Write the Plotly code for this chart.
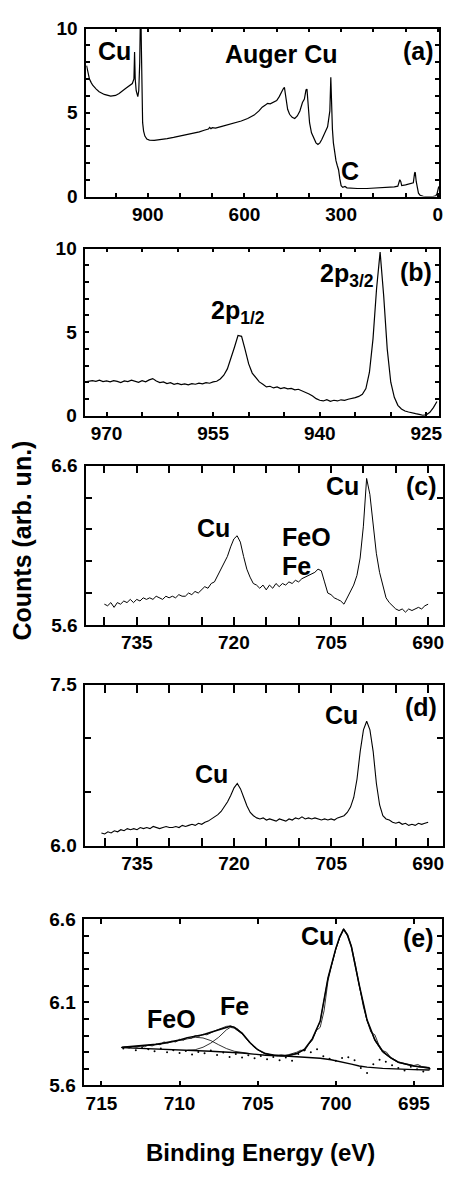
import plotly.graph_objects as go

# ---------------- data ----------------
# (a) survey spectrum
a_energy = [1090,1085,1081,1076,1071,1060,1051,1035,1015,1000,989,969,955,948,943,941,939,936,931,928,
            925,922,920,918,916,913,909,903,895,880,860,840,820,800,780,760,740,725,712,708,
            704,700,690,670,650,630,610,590,570,555,545,535,528,520,512,500,492,486,480,476,
            471,466,460,452,444,436,428,420,414,409,406,402,398,392,385,378,372,366,360,354,
            348,342,338,335,332,330,327,324,320,316,312,308,304,300,295,288,282,270,250,220,
            190,160,135,124,118,115,112,100,85,76,72,70,67,64,60,55,45,30,15,6,2,-3]
a_counts = [7.8,7.3,7.0,6.8,6.63,6.4,6.24,6.08,5.98,6.02,6.14,6.43,6.6,6.73,7.0,8.6,7.0,6.3,5.95,6.3,
            8.0,12.0,9.0,5.2,4.4,3.9,3.6,3.42,3.36,3.35,3.38,3.45,3.52,3.6,3.67,3.75,3.85,3.95,4.02,4.12,
            4.04,4.1,4.08,4.18,4.28,4.38,4.5,4.65,4.85,5.1,5.32,5.45,5.55,5.52,5.62,5.72,5.95,6.2,6.4,6.5,
            5.8,5.2,4.9,4.72,4.65,4.8,5.1,5.6,5.8,6.35,6.4,5.1,4.4,3.8,3.45,3.2,3.1,3.2,3.4,3.7,
            3.9,4.15,4.6,5.1,7.1,5.4,4.0,3.2,2.5,2.14,1.85,1.6,1.05,0.65,0.55,0.6,0.52,0.5,0.48,0.48,
            0.5,0.53,0.58,0.62,1.0,0.9,0.65,0.7,0.78,0.82,1.4,1.45,0.9,0.5,0.2,0.08,0.02,0.0,0.0,0.05,0.2,0.6]

# (b) Cu 2p region
b_energy = [973.0,972.5,972.0,971.5,971.0,970.5,970.0,969.5,969.0,968.5,968.0,967.5,967.0,966.5,966.0,
            965.5,965.0,964.5,964.0,963.5,963.0,962.5,962.0,961.5,961.0,960.5,960.0,959.5,959.0,958.5,
            958.0,957.5,957.0,956.5,956.0,955.5,955.0,954.5,954.0,953.5,953.0,952.5,952.0,951.5,951.0,
            950.5,950.0,949.5,949.0,948.5,948.0,947.5,947.0,946.5,946.0,945.5,945.0,944.5,944.0,943.5,
            943.0,942.5,942.0,941.5,941.0,940.5,940.0,939.5,939.0,938.5,938.0,937.5,937.0,936.5,936.0,
            935.5,935.0,934.5,934.0,933.5,933.0,932.5,932.0,931.5,931.0,930.5,930.0,929.5,929.0,928.5,
            928.0,927.5,927.0,926.5,926.0,925.5,925.0,924.5,924.0,923.5]
b_counts = [2.02,2.06,2.10,2.05,2.12,2.04,2.08,2.02,2.10,2.05,1.98,2.08,2.04,2.12,2.06,
            2.00,2.09,2.03,2.14,2.22,2.08,1.98,2.02,1.92,1.97,1.88,1.93,1.86,1.90,1.84,
            1.92,1.88,1.95,1.90,1.98,1.94,2.02,2.06,2.20,2.42,2.80,3.40,4.10,4.80,4.75,
            3.95,3.10,2.55,2.25,2.02,1.88,1.72,1.76,1.66,1.72,1.62,1.68,1.60,1.63,1.55,
            1.58,1.50,1.42,1.30,1.18,1.02,0.92,0.88,0.96,0.86,0.92,0.88,0.95,0.92,0.98,
            1.02,1.08,1.15,1.28,1.62,2.60,4.60,7.60,9.80,7.20,4.00,2.00,1.10,0.62,0.40,
            0.28,0.22,0.15,0.12,0.08,0.02,0.05,0.20,0.48,0.85]

# (c) and (d) 700 eV region, two samples
cd_energy = [740.0,739.5,739.0,738.5,738.0,737.5,737.0,736.5,736.0,735.5,735.0,734.5,734.0,733.5,733.0,
             732.5,732.0,731.5,731.0,730.5,730.0,729.5,729.0,728.5,728.0,727.5,727.0,726.5,726.0,725.5,
             725.0,724.5,724.0,723.5,723.0,722.5,722.0,721.5,721.0,720.5,720.0,719.5,719.0,718.5,718.0,
             717.5,717.0,716.5,716.0,715.5,715.0,714.5,714.0,713.5,713.0,712.5,712.0,711.5,711.0,710.5,
             710.0,709.5,709.0,708.5,708.0,707.5,707.0,706.5,706.0,705.5,705.0,704.5,704.0,703.5,703.0,
             702.5,702.0,701.5,701.0,700.5,700.0,699.5,699.0,698.5,698.0,697.5,697.0,696.5,696.0,695.5,
             695.0,694.5,694.0,693.5,693.0,692.5,692.0,691.5,691.0,690.5,690.0]
c_counts = [5.73,5.72,5.74,5.71,5.74,5.73,5.75,5.74,5.76,5.74,5.76,5.75,5.77,5.76,5.77,
            5.76,5.78,5.77,5.76,5.78,5.77,5.78,5.77,5.79,5.78,5.78,5.80,5.79,5.81,5.80,
            5.82,5.84,5.83,5.86,5.87,5.91,5.94,5.98,6.03,6.09,6.14,6.16,6.12,6.03,5.95,
            5.90,5.86,5.85,5.83,5.85,5.82,5.85,5.83,5.86,5.84,5.86,5.85,5.87,5.86,5.88,
            5.87,5.89,5.90,5.91,5.92,5.93,5.95,5.94,5.87,5.80,5.79,5.77,5.76,5.75,5.73,
            5.77,5.81,5.85,5.91,6.02,6.22,6.52,6.42,6.24,6.05,5.93,5.84,5.77,5.74,5.72,
            5.70,5.69,5.70,5.68,5.70,5.69,5.70,5.71,5.70,5.72,5.73]
d_energy = [740.5] + cd_energy
d_counts = [6.12,6.11,6.13,6.12,6.14,6.13,6.15,6.14,6.16,6.15,6.16,6.15,6.17,6.16,6.17,6.16,
            6.18,6.17,6.16,6.17,6.18,6.17,6.17,6.18,6.17,6.19,6.18,6.19,6.20,6.19,6.21,
            6.20,6.22,6.23,6.25,6.27,6.29,6.32,6.36,6.41,6.47,6.54,6.58,6.53,6.45,6.37,
            6.31,6.28,6.26,6.25,6.26,6.24,6.25,6.24,6.23,6.25,6.24,6.23,6.25,6.24,6.26,
            6.25,6.27,6.25,6.26,6.25,6.26,6.25,6.24,6.25,6.24,6.25,6.24,6.26,6.27,6.28,
            6.31,6.36,6.45,6.62,6.88,7.08,7.16,7.08,6.88,6.58,6.38,6.28,6.25,6.24,6.22,
            6.21,6.22,6.20,6.21,6.19,6.20,6.19,6.21,6.20,6.21,6.22]

# (e) fitted region
e_data_energy = [713.75,713.5,713.25,713.0,712.75,712.5,712.25,712.0,711.75,711.5,711.25,711.0,710.75,710.5,
                 710.25,710.0,709.75,709.5,709.25,709.0,708.75,708.5,708.25,708.0,707.75,707.5,707.25,707.0,
                 706.75,706.5,706.25,706.0,705.75,705.5,705.25,705.0,704.75,704.5,704.25,704.0,703.75,703.5,
                 703.25,703.0,702.75,702.5,702.25,702.0,701.75,701.5,701.25,701.0,700.75,700.5,700.25,700.0,
                 699.75,699.5,699.25,699.0,698.75,698.5,698.25,698.0,697.75,697.5,697.25,697.0,696.75,696.5,
                 696.25,696.0,695.5,695.0,694.75,694.5,694.0]
e_data_counts = [5.828,5.832,5.826,5.834,5.830,5.838,5.833,5.842,5.838,5.850,5.845,5.862,5.855,5.866,
                 5.862,5.878,5.872,5.888,5.884,5.900,5.896,5.908,5.905,5.918,5.928,5.938,5.945,5.956,
                 5.958,5.952,5.938,5.912,5.885,5.856,5.832,5.818,5.800,5.790,5.786,5.782,5.778,5.784,
                 5.780,5.786,5.792,5.800,5.812,5.808,5.845,5.872,5.930,5.950,6.050,6.230,6.330,6.420,
                 6.490,6.545,6.510,6.440,6.330,6.210,6.080,5.990,5.920,5.905,5.845,5.810,5.800,5.770,
                 5.755,5.742,5.730,5.720,5.726,5.714,5.708]
e_fit_energy = [713.7,712.5,711.5,711.0,710.0,709.5,709.0,708.5,708.0,707.5,707.0,706.75,706.5,706.0,705.5,
                705.0,704.5,704.0,703.5,703.0,702.5,702.0,701.5,701.0,700.5,700.0,699.75,699.5,699.25,699.0,
                698.5,698.0,697.5,697.0,696.5,696.0,695.0,694.0]
e_fit_counts = [5.830,5.838,5.848,5.856,5.874,5.888,5.898,5.905,5.920,5.935,5.952,5.956,5.950,5.915,5.858,
                5.815,5.792,5.783,5.780,5.782,5.792,5.818,5.882,5.988,6.248,6.425,6.495,6.542,6.505,6.435,
                6.205,5.995,5.875,5.805,5.768,5.740,5.717,5.705]
e_bg_energy = [713.7,712.0,710.0,708.0,706.0,704.5,703.0,702.0,701.0,700.3,699.7,699.0,698.5,698.0,697.0,696.0,695.0,694.0]
e_bg_counts = [5.828,5.822,5.815,5.806,5.795,5.782,5.776,5.772,5.764,5.755,5.744,5.728,5.717,5.710,5.703,5.698,5.695,5.693]
e_feo_energy = [713.7,712.5,711.5,711.0,710.0,709.5,709.0,708.5,708.0,707.5,707.0,706.5,706.0,705.5]
e_feo_counts = [5.828,5.835,5.845,5.852,5.870,5.882,5.890,5.886,5.870,5.845,5.822,5.806,5.798,5.792]
e_fe_energy = [709.5,709.0,708.5,708.0,707.5,707.0,706.75,706.5,706.0,705.5,705.0,704.5,704.0,703.5]
e_fe_counts = [5.812,5.815,5.830,5.855,5.890,5.935,5.950,5.945,5.910,5.855,5.815,5.790,5.782,5.778]
e_cu_energy = [703.5,703.0,702.5,702.0,701.5,701.0,700.5,700.0,699.75,699.5,699.25,699.0,698.5,698.0,697.5,
               697.0,696.5,696.0,695.0,694.0]
e_cu_counts = [5.778,5.780,5.790,5.815,5.880,5.985,6.245,6.420,6.490,6.537,6.500,6.430,6.200,5.990,5.870,
               5.800,5.765,5.738,5.715,5.703]
e_dot_energy = [713.6,713.2,712.8,712.4,712.0,711.6,711.2,710.8,710.4,710.0,709.6,709.2,708.8,708.4,708.0,
                707.6,707.2,706.8,706.4,706.0,705.6,705.2,704.8,704.4,704.0,703.6,703.2,702.8,702.4,702.0,
                701.6,701.2,700.8,700.4,700.0,699.6,699.2,698.8,698.4,698.0,697.6,697.2,696.8,696.4,696.0,
                695.6,695.2,694.8,694.4,694.0]
e_dot_counts = [5.822,5.830,5.812,5.826,5.818,5.806,5.822,5.800,5.812,5.796,5.808,5.786,5.802,5.794,5.810,
                5.784,5.798,5.772,5.790,5.768,5.782,5.764,5.778,5.758,5.772,5.752,5.768,5.748,5.790,5.812,
                5.800,5.818,5.776,5.760,5.748,5.766,5.770,5.752,5.705,5.675,5.728,5.755,5.742,5.722,5.705,
                5.690,5.712,5.698,5.684,5.700]

# tick positions and tick labels ("" = unlabeled tick)
a_xtickvals = [1000, 900, 800, 700, 600, 500, 400, 300, 200, 100, 0]
a_xticktext = ["", "900", "", "", "600", "", "", "300", "", "", "0"]
ab_ytickvals = [0, 1, 2, 3, 4, 5, 6, 7, 8, 9, 10]
ab_yticktext = ["0", "", "", "", "", "5", "", "", "", "", "10"]
b_xtickvals = [970, 965, 960, 955, 950, 945, 940, 935, 930, 925]
b_xticktext = ["970", "", "", "955", "", "", "940", "", "", "925"]
cd_xtickvals = [740, 735, 730, 725, 720, 715, 710, 705, 700, 695, 690]
cd_xticktext = ["", "735", "", "", "720", "", "", "705", "", "", "690"]
c_ytickvals = [5.6, 5.8, 6.0, 6.2, 6.4, 6.6]
c_yticktext = ["5.6", "", "", "", "", "6.6"]
d_ytickvals = [6.0, 6.5, 7.0, 7.5]
d_yticktext = ["6.0", "", "", "7.5"]
e_xtickvals = [715, 710, 705, 700, 695]
e_xticktext = ["715", "710", "705", "700", "695"]
e_ytickvals = [5.6, 5.7, 5.8, 5.9, 6.0, 6.1, 6.2, 6.3, 6.4, 6.5, 6.6]
e_yticktext = ["5.6", "", "", "", "", "6.1", "", "", "", "", "6.6"]

# ---------------- figure ----------------
FONT = "Liberation Sans, Arial, sans-serif"
fig = go.Figure()

def line(x, y, xa, ya, width=1.2):
    fig.add_trace(go.Scatter(x=x, y=y, mode="lines", xaxis=xa, yaxis=ya,
                             line=dict(color="black", width=width),
                             showlegend=False, hoverinfo="skip"))

line(a_energy, a_counts, "x", "y")
line(b_energy, b_counts, "x2", "y2")
line(cd_energy, c_counts, "x3", "y3", 1.0)
line(d_energy, d_counts, "x4", "y4", 1.1)
line(e_bg_energy, e_bg_counts, "x5", "y5", 1.4)
line(e_feo_energy, e_feo_counts, "x5", "y5", 0.8)
line(e_fe_energy, e_fe_counts, "x5", "y5", 0.8)
line(e_cu_energy, e_cu_counts, "x5", "y5", 0.8)
line(e_data_energy, e_data_counts, "x5", "y5", 0.8)
line(e_fit_energy, e_fit_counts, "x5", "y5", 1.5)
fig.add_trace(go.Scatter(x=e_dot_energy, y=e_dot_counts, mode="markers", xaxis="x5", yaxis="y5",
                         marker=dict(color="black", size=2), showlegend=False, hoverinfo="skip"))


def axis(domain, rng, anchor, tickvals, ticktext, ticklen, standoff):
    return dict(domain=domain, range=rng, anchor=anchor, showline=True,
                linecolor="black", linewidth=1.5, mirror="allticks", ticks="inside",
                ticklen=ticklen, tickwidth=1.5, tickcolor="black", showgrid=False,
                zeroline=False, tickmode="array", tickvals=tickvals, ticktext=ticktext,
                ticklabelstandoff=standoff,
                tickfont=dict(family=FONT, size=19, color="black", weight="bold"))

fig.update_layout(
    width=452, height=1177, margin=dict(l=0, r=0, t=0, b=0),
    paper_bgcolor="white", plot_bgcolor="white", showlegend=False,
    xaxis=axis([0.1925, 0.9801], [1091, -4], "y", a_xtickvals, a_xticktext, 4, 0),
    yaxis=axis([0.8386, 0.9839], [0, 10], "x", ab_ytickvals, ab_yticktext, 4, 3),
    xaxis2=axis([0.1903, 0.9801], [973.0, 923.2], "y2", b_xtickvals, b_xticktext, 4, 0),
    yaxis2=axis([0.6491, 0.7935], [0, 10], "x2", ab_ytickvals, ab_yticktext, 4, 3),
    xaxis3=axis([0.1925, 0.9889], [742.8, 687.7], "y3", cd_xtickvals, cd_xticktext, 8, 0),
    yaxis3=axis([0.4681, 0.6058], [5.6, 6.6], "x3", c_ytickvals, c_yticktext, 6, 3),
    xaxis4=axis([0.1903, 0.9889], [743.0, 687.7], "y4", cd_xtickvals, cd_xticktext, 8, 0),
    yaxis4=axis([0.2770, 0.4163], [6.0, 7.5], "x4", d_ytickvals, d_yticktext, 6, 3),
    xaxis5=axis([0.1881, 0.9867], [716.1, 693.2], "y5", e_xtickvals, e_xticktext, 5, 0),
    yaxis5=axis([0.0697, 0.2133], [5.6, 6.6], "x5", e_ytickvals, e_yticktext, 5, 3),
)

# panel labels, placed in paper coordinates
def label(text, x, y, xanchor="center", size=25):
    fig.add_annotation(text="<b>" + text + "</b>", xref="paper", yref="paper",
                       x=x, y=y, xanchor=xanchor, yanchor="middle", showarrow=False,
                       font=dict(family=FONT, size=size, color="black"))

label("Cu", 0.2547, 0.9643)
label("Auger Cu", 0.6280, 0.9618)
label("(a)", 0.9336, 0.9643)
label("C", 0.7808, 0.8607)

label("2p<sub>1/2</sub>", 0.5323, 0.7386)
label("2p<sub>3/2</sub>", 0.7740, 0.7704)
label("(b)", 0.9296, 0.7731)

label("Cu", 0.7635, 0.5879)
label("(c)", 0.9403, 0.5879)
label("Cu", 0.4760, 0.5522)
label("FeO", 0.6241, 0.5437, xanchor="left")
label("Fe", 0.6241, 0.5190, xanchor="left")

label("Cu", 0.7629, 0.3900)
label("(d)", 0.9402, 0.3968)
label("Cu", 0.4714, 0.3390)

label("Cu", 0.7080, 0.1988)
label("(e)", 0.9340, 0.1972)
label("FeO", 0.3830, 0.1274)
label("Fe", 0.5243, 0.1385)

fig.add_annotation(text="<b>Counts (arb. un.)</b>", xref="paper", yref="paper", x=0.049, y=0.541,
                   textangle=-90, showarrow=False, xanchor="center", yanchor="middle",
                   font=dict(family=FONT, size=25, color="black"))
fig.add_annotation(text="<b>Binding Energy (eV)</b>", xref="paper", yref="paper", x=0.582, y=0.0119,
                   showarrow=False, xanchor="center", yanchor="middle",
                   font=dict(family=FONT, size=24, color="black"))

fig.write_html("out.html")
